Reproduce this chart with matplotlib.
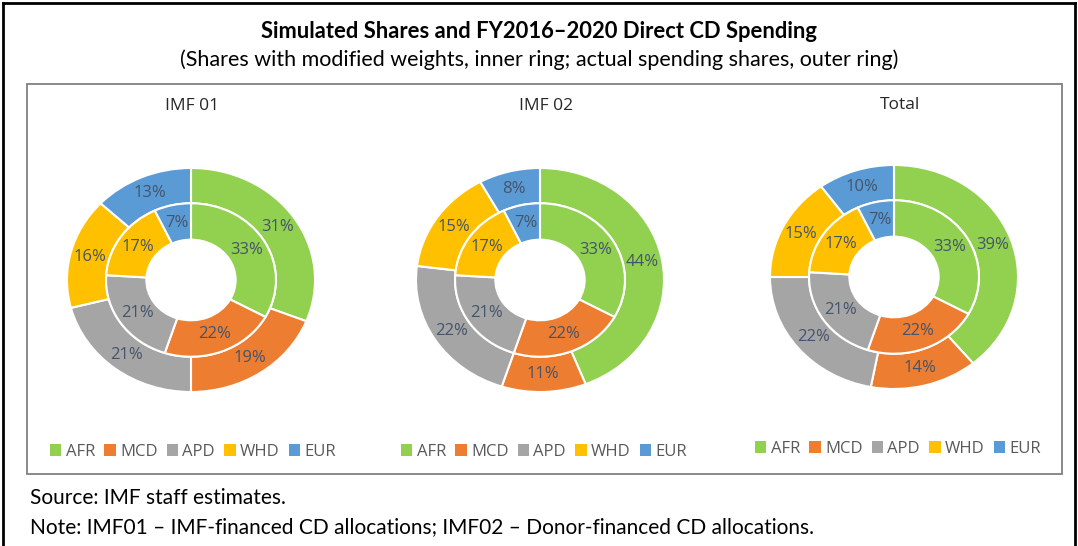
import matplotlib
matplotlib.use("Agg")
import matplotlib.pyplot as plt
from matplotlib.patches import Patch, Rectangle
from matplotlib.lines import Line2D
import numpy as np

# ============================
# Datos
# ============================
regiones = ["AFR", "MCD", "APD", "WHD", "EUR"]
colores = ["#92D050", "#ED7D31", "#A5A5A5", "#FFC000", "#5B9BD5"]

titulos = ["IMF 01", "IMF 02", "Total"]
interior_imf01 = [33, 22, 21, 17, 7]
exterior_imf01 = [31, 19, 21, 16, 13]
interior_imf02 = [33, 22, 21, 17, 7]
exterior_imf02 = [44, 11, 22, 15, 8]
interior_total = [33, 22, 21, 17, 7]
exterior_total = [39, 14, 22, 15, 10]

interiores = [interior_imf01, interior_imf02, interior_total]
exteriores = [exterior_imf01, exterior_imf02, exterior_total]

# ============================
# Figura
# ============================
W, H = 1078, 546
fig = plt.figure(figsize=(W / 100, H / 100), dpi=100)
fuente = ["Open Sans", "DejaVu Sans"]
narrow = ["Lato", "DejaVu Sans"]
color_txt = "#44546A"

# marcos
fig.add_artist(Line2D([2.5 / W, 2.5 / W], [0, 1 - 2.5 / H], color="black", lw=2, transform=fig.transFigure))
fig.add_artist(Line2D([2.5 / W, 1 - 3 / W], [1 - 2.5 / H, 1 - 2.5 / H], color="black", lw=2, transform=fig.transFigure))
fig.add_artist(Line2D([1 - 3 / W, 1 - 3 / W], [0, 1 - 2.5 / H], color="black", lw=2, transform=fig.transFigure))
fig.add_artist(Rectangle((27 / W, 1 - 474 / H), (1062 - 27) / W, (474 - 84) / H,
                         fill=False, edgecolor="#808080", lw=1.3, transform=fig.transFigure))

fig.text(0.5, 1 - 31 / H, "Simulated Shares and FY2016\u20132020 Direct CD Spending",
         ha="center", va="center", fontsize=15.8, fontweight="bold", family=narrow)
fig.text(0.5, 1 - 60 / H, "(Shares with modified weights, inner ring; actual spending shares, outer ring)",
         ha="center", va="center", fontsize=15.5, family=narrow)

fig.text(30 / W, 1 - 498 / H, "Source: IMF staff estimates.", ha="left", va="center", fontsize=15, family=narrow)
fig.text(30 / W, 1 - 527 / H, "Note: IMF01 \u2013 IMF-financed CD allocations; IMF02 \u2013 Donor-financed CD allocations.",
         ha="left", va="center", fontsize=15, family=narrow)

centros = [(191, 280), (540, 280), (894, 277)]
pos_titulo = [(192, 106), (546, 106), (900, 105)]
pos_leyenda = [(193, 452), (544, 452), (898, 449)]
rx, ry = 124, 112

r_ext, r_med, r_hueco = 1.0, 0.685, 0.36

for i in range(3):
    cx, cy = centros[i]
    ax = fig.add_axes([(cx - rx) / W, 1 - (cy + ry) / H, 2 * rx / W, 2 * ry / H])
    props = dict(edgecolor="white", linewidth=1.5)
    w_ext, _ = ax.pie(exteriores[i], radius=r_ext, colors=colores, startangle=90, counterclock=False,
                      wedgeprops=dict(width=r_ext - r_med, **props))
    w_int, _ = ax.pie(interiores[i], radius=r_med, colors=colores, startangle=90, counterclock=False,
                      wedgeprops=dict(width=r_med - r_hueco, **props))
    ax.set_aspect("auto")
    ax.set_xlim(-1, 1)
    ax.set_ylim(-1, 1)
    ax.axis("off")

    for cuñas, valores, rr in [(w_ext, exteriores[i], (r_ext + r_med) / 2), (w_int, interiores[i], (r_med + r_hueco) / 2)]:
        for w, v in zip(cuñas, valores):
            ang = np.deg2rad((w.theta1 + w.theta2) / 2)
            ax.text(rr * np.cos(ang), rr * np.sin(ang), f"{v}%", ha="center", va="center",
                    fontsize=12, color=color_txt, family=fuente)

    tx, ty = pos_titulo[i]
    fig.text(tx / W, 1 - ty / H, titulos[i], ha="center", va="center", fontsize=12.5, color="#262626", family=fuente)

    lx, ly = pos_leyenda[i]
    handles = [Patch(facecolor=c, edgecolor="none", label=r) for c, r in zip(colores, regiones)]
    leg = fig.legend(handles=handles, ncol=5, loc="center", bbox_to_anchor=(lx / W, 1 - ly / H),
                     frameon=False, handlelength=0.7, handleheight=0.7,
                     handletextpad=0.25, columnspacing=0.55, prop={"family": fuente, "size": 12})
    for t in leg.get_texts():
        t.set_color("#595959")

fig.savefig("out.png", dpi=100)
